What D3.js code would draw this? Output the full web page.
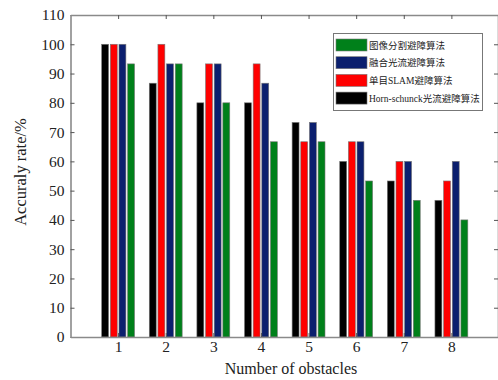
<!DOCTYPE html>
<html><head><meta charset="utf-8">
<script src="https://cdn.jsdelivr.net/npm/d3@7"></script>
<style>
html,body{margin:0;padding:0;background:#fff;}
svg{display:block;}
</style></head>
<body>
<svg id="c" width="498" height="380"></svg>
<script>
const categories = [1, 2, 3, 4, 5, 6, 7, 8];
const seriesNames = ["Horn-schunck光流避障算法", "单目SLAM避障算法", "融合光流避障算法", "图像分割避障算法"];
const seriesColors = ["#000000", "#ff0000", "#0b1f6e", "#00801a"];
const hornSchunck = [100, 86.7, 80, 80, 73.3, 60, 53.3, 46.7];
const monoSlam    = [100, 100, 93.3, 93.3, 66.7, 66.7, 60, 53.3];
const fusionFlow  = [100, 93.3, 93.3, 86.7, 73.3, 66.7, 60, 60];
const segmentation= [93.3, 93.3, 80, 66.7, 66.7, 53.3, 46.7, 40];
const yTicks = [0,10,20,30,40,50,60,70,80,90,100,110];
const legendOrder = [3, 2, 1, 0];

const series = [hornSchunck, monoSlam, fusionFlow, segmentation];

const svg = d3.select("#c");
const L = 70.5, R = 499, T = 15, B = 337;
const x = d3.scaleLinear().domain([0, 9]).range([L, R]);
const y = d3.scaleLinear().domain([0, 110]).range([B, T]);

const groupW = 0.727, pitch = groupW / 4, barW = pitch * 0.8;

// bars
series.forEach((vals, si) => {
  svg.append("g").selectAll("rect").data(vals).join("rect")
    .attr("x", (d, i) => x(categories[i] - groupW / 2 + si * pitch + (pitch - barW) / 2))
    .attr("width", x(barW) - x(0))
    .attr("y", d => y(d))
    .attr("height", d => y(0) - y(d))
    .attr("fill", seriesColors[si])
    .attr("stroke", "#777")
    .attr("stroke-width", 0.6);
});

const font = "'Liberation Serif', 'Times New Roman', serif";
function styleAxis(g, showText) {
  g.select(".domain").attr("stroke", "#8a8a8a").attr("stroke-width", 1.6);
  g.selectAll(".tick line").attr("stroke", "#555").attr("stroke-width", 1);
  g.selectAll(".tick text").attr("font-family", font).attr("font-size", 15.5).attr("fill", "#222");
  if (!showText) g.selectAll(".tick text").remove();
}

// axes
svg.append("g").attr("transform", `translate(${L},0)`)
  .call(d3.axisLeft(y).tickValues(yTicks).tickSizeInner(-4).tickSizeOuter(0).tickPadding(6))
  .call(g => styleAxis(g, true));
svg.append("g").attr("transform", `translate(${R - 1},0)`)
  .call(d3.axisRight(y).tickValues(yTicks).tickSizeInner(-4).tickSizeOuter(0))
  .call(g => styleAxis(g, false));
svg.append("g").attr("transform", `translate(0,${B})`)
  .call(d3.axisBottom(x).tickValues(categories).tickFormat(d3.format("d")).tickSizeInner(-4).tickSizeOuter(0).tickPadding(4))
  .call(g => styleAxis(g, true));
svg.append("g").attr("transform", `translate(0,${T})`)
  .call(d3.axisTop(x).tickValues(categories).tickSizeInner(-4).tickSizeOuter(0))
  .call(g => styleAxis(g, false));

// axis labels
svg.append("text").attr("x", 291).attr("y", 374).attr("text-anchor", "middle")
  .attr("font-family", font).attr("font-size", 16).attr("fill", "#222").text("Number of obstacles");
svg.append("text").attr("transform", "translate(26,172) rotate(-90)").attr("text-anchor", "middle")
  .attr("font-family", font).attr("font-size", 16.5).attr("fill", "#222").text("Accuraly rate/%");

// legend
const lg = svg.append("g");
lg.append("rect").attr("x", 333.5).attr("y", 33.5).attr("width", 149).attr("height", 77)
  .attr("fill", "#fff").attr("stroke", "#777").attr("stroke-width", 1);
legendOrder.forEach((si, k) => {
  const cy = 45 + k * 17.7;
  lg.append("rect").attr("x", 336).attr("y", cy - 6).attr("width", 31).attr("height", 12)
    .attr("fill", seriesColors[si]).attr("stroke", "#777").attr("stroke-width", 0.6);
  lg.append("text").attr("x", 369).attr("y", cy + 3.5)
    .attr("font-family", "'Liberation Serif', 'Noto Sans CJK SC', serif").attr("font-size", 9.5)
    .attr("fill", "#222").text(seriesNames[si]);
});
</script>
</body></html>
